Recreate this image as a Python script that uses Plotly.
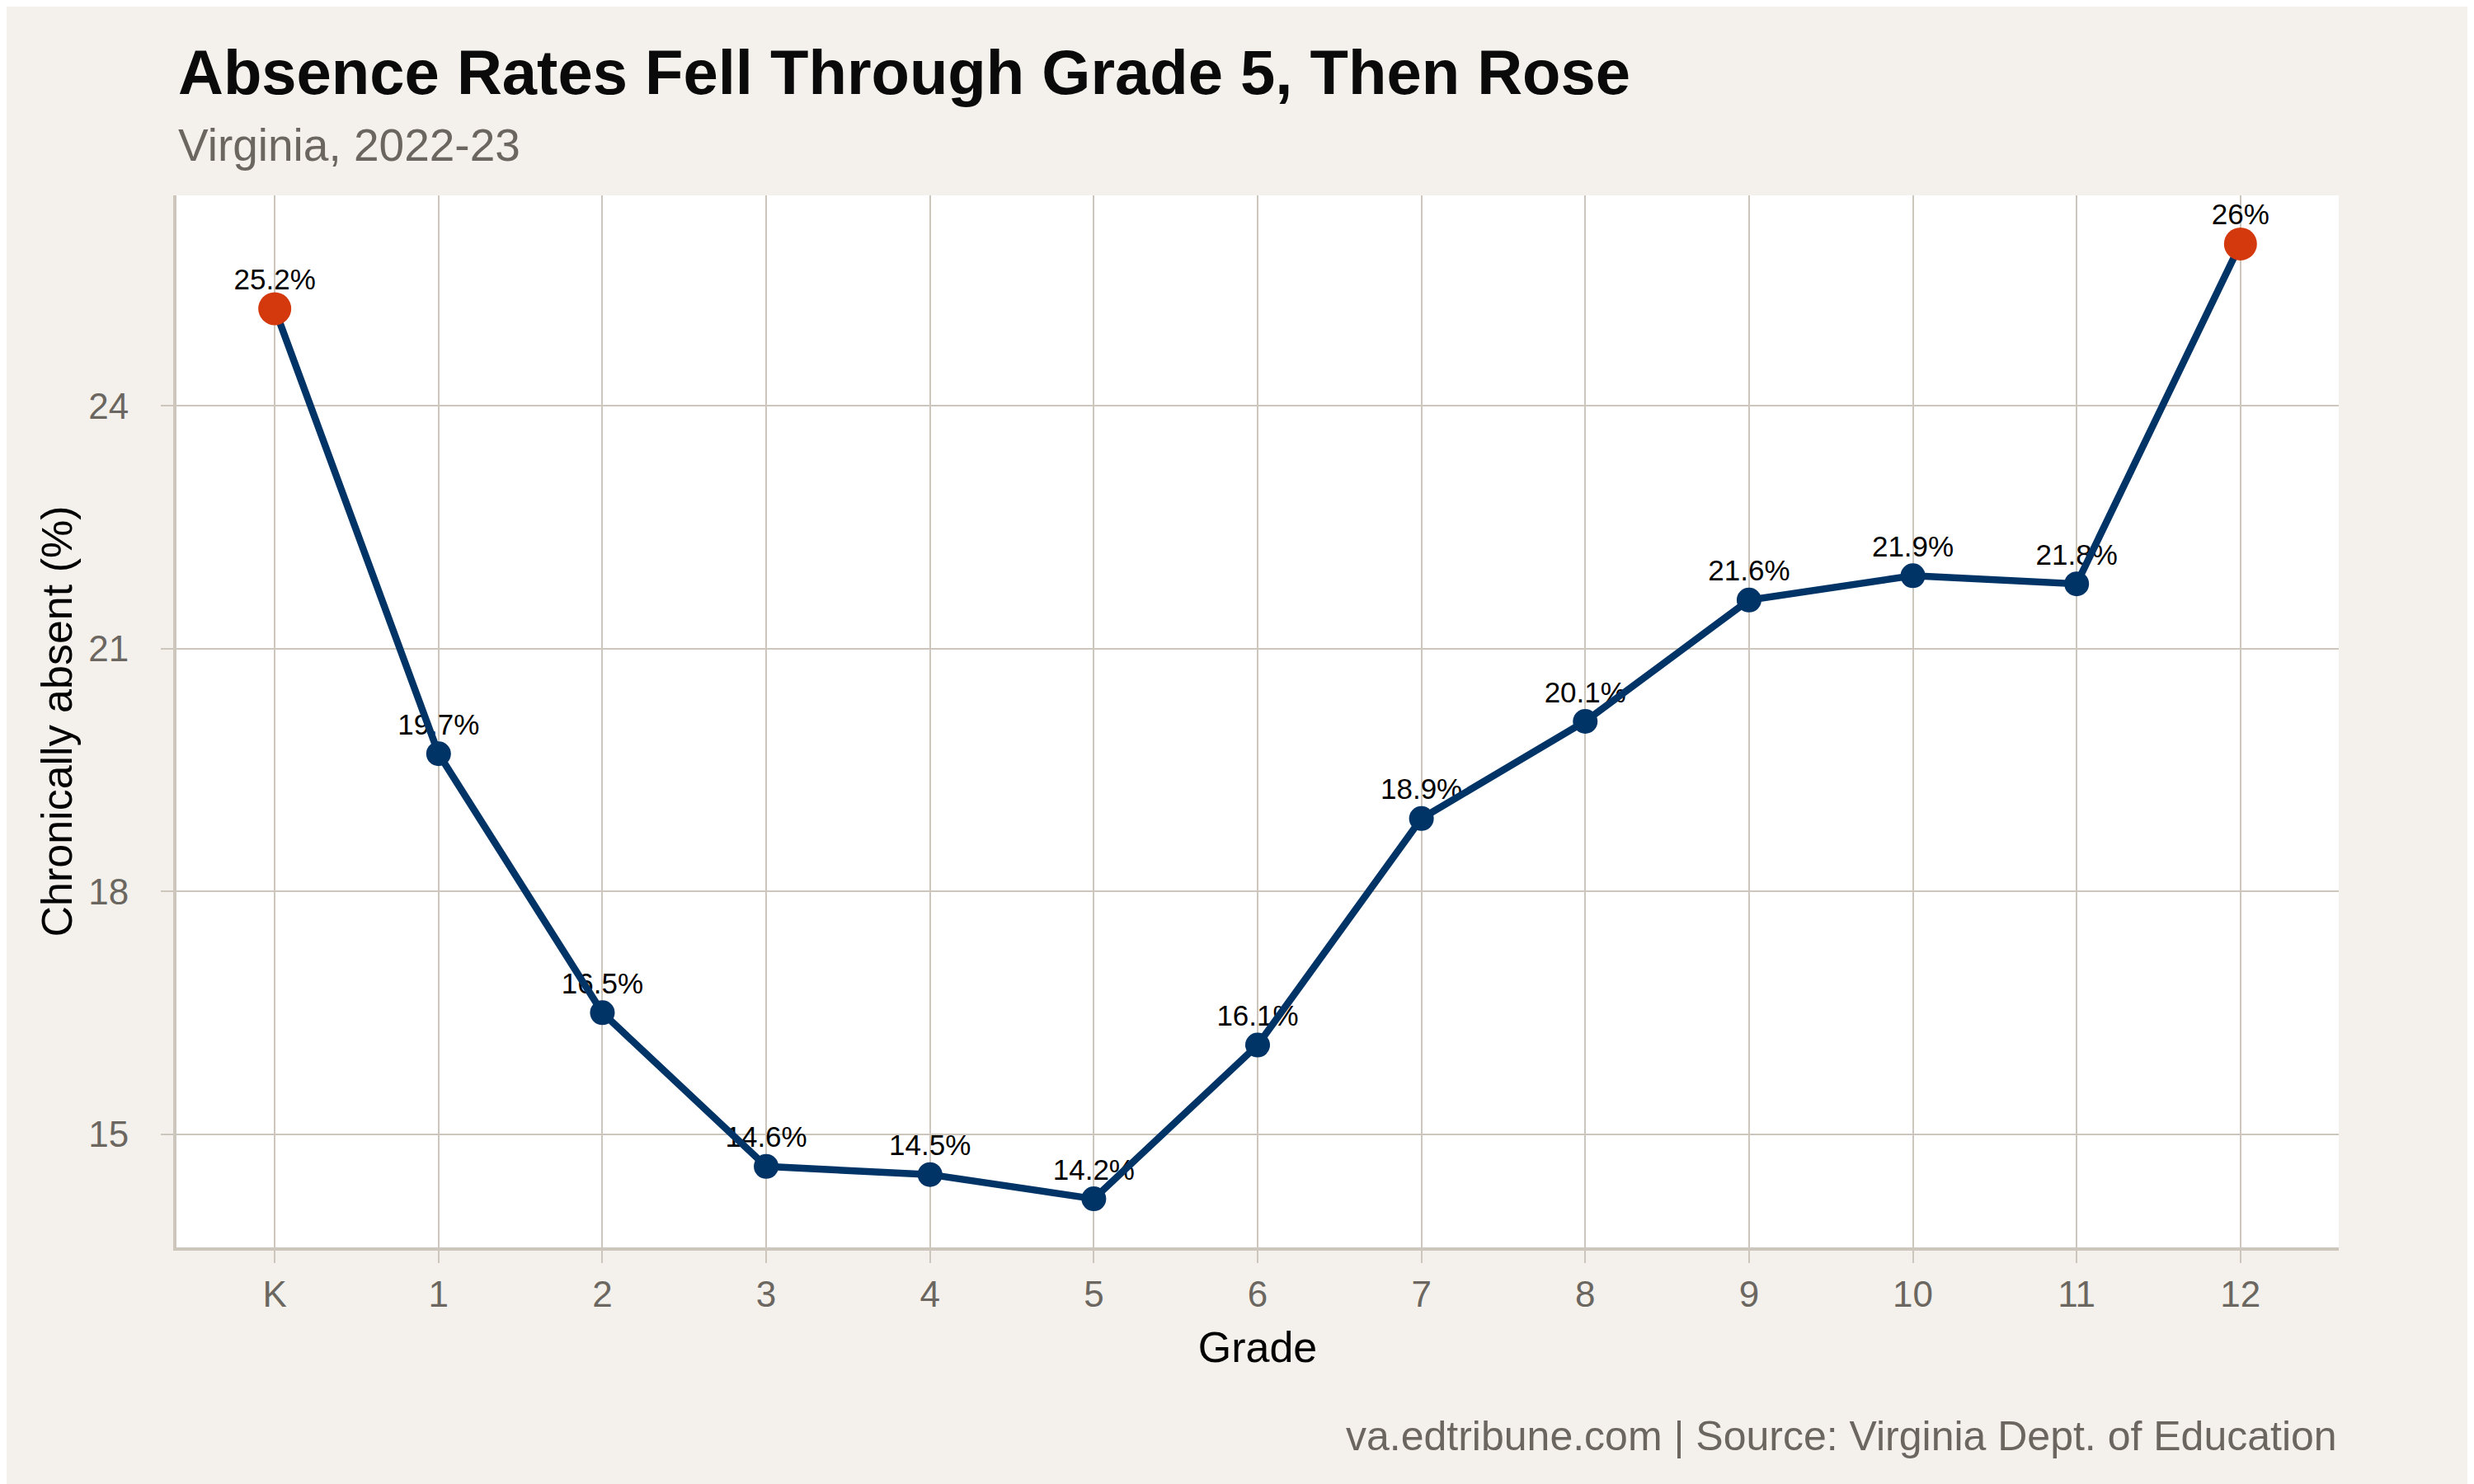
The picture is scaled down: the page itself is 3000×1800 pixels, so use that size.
import plotly.graph_objects as go

grades = ["K", "1", "2", "3", "4", "5", "6", "7", "8", "9", "10", "11", "12"]
absent = [25.2, 19.7, 16.5, 14.6, 14.5, 14.2, 16.1, 18.9, 20.1, 21.6, 21.9, 21.8, 26.0]
labels = ["25.2%", "19.7%", "16.5%", "14.6%", "14.5%", "14.2%", "16.1%",
          "18.9%", "20.1%", "21.6%", "21.9%", "21.8%", "26%"]
highlight = ["K", "12"]

NAVY = "#003366"
ORANGE = "#D4380D"
GRID = "#CCC6BC"
BG = "#F4F1EC"
FONT = "Liberation Sans"

x_idx = list(range(len(grades)))
hi_x = [i for i, g in enumerate(grades) if g in highlight]
hi_y = [absent[i] for i in hi_x]

fig = go.Figure()

# labels first so the line sits on top of them
# (invisible markers just push the text up a bit)
fig.add_trace(go.Scatter(
    x=x_idx, y=absent, mode="markers+text", text=labels,
    textposition="top center",
    marker=dict(size=22, opacity=0),
    textfont=dict(family=FONT, size=35, color="#000000"),
    hoverinfo="skip", showlegend=False,
))

fig.add_trace(go.Scatter(
    x=x_idx, y=absent, mode="lines+markers",
    line=dict(color=NAVY, width=8.5),
    marker=dict(color=NAVY, size=30),
    showlegend=False,
))

fig.add_trace(go.Scatter(
    x=hi_x, y=hi_y, mode="markers",
    marker=dict(color=ORANGE, size=40),
    showlegend=False,
))

fig.update_layout(
    width=3000, height=1800,
    paper_bgcolor=BG, plot_bgcolor="#FFFFFF",
    margin=dict(l=206, r=172, t=229, b=295),
    font=dict(family=FONT, color="#6B6760"),
)

fig.update_xaxes(
    range=[-0.6, 12.6], tickmode="array", tickvals=x_idx, ticktext=grades,
    showgrid=True, gridcolor=GRID, gridwidth=2,
    showline=True, linecolor=GRID, linewidth=4,
    ticks="outside", ticklen=15, tickwidth=2, tickcolor=GRID,
    tickfont=dict(size=44, color="#6B6760"),
    zeroline=False,
    title=dict(text="Grade", font=dict(size=52, color="#000000"), standoff=24),
)

fig.update_yaxes(
    range=[13.6, 26.6], tickmode="array", tickvals=[15, 18, 21, 24],
    showgrid=True, gridcolor=GRID, gridwidth=2,
    showline=True, linecolor=GRID, linewidth=4,
    ticks="outside", ticklen=15, tickwidth=2, tickcolor=GRID,
    tickfont=dict(size=44, color="#6B6760"),
    ticklabelstandoff=30,
    zeroline=False,
    title=dict(text="Chronically absent (%)", font=dict(size=52, color="#000000"), standoff=4),
)

fig.add_annotation(
    text="<b>Absence Rates Fell Through Grade 5, Then Rose</b>",
    xref="paper", yref="paper", x=0, y=1.082, xanchor="left", yanchor="bottom",
    showarrow=False, font=dict(family=FONT, size=76, color="#0A0A0A"),
)
fig.add_annotation(
    text="Virginia, 2022-23",
    xref="paper", yref="paper", x=0, y=1.022, xanchor="left", yanchor="bottom",
    showarrow=False, font=dict(family=FONT, size=55, color="#6B6760"),
)
fig.add_annotation(
    text="va.edtribune.com | Source: Virginia Dept. of Education",
    xref="paper", yref="paper", x=1, y=-0.203, xanchor="right", yanchor="bottom",
    showarrow=False, font=dict(family=FONT, size=50, color="#6B6760"),
)

fig.write_html("out.html")
